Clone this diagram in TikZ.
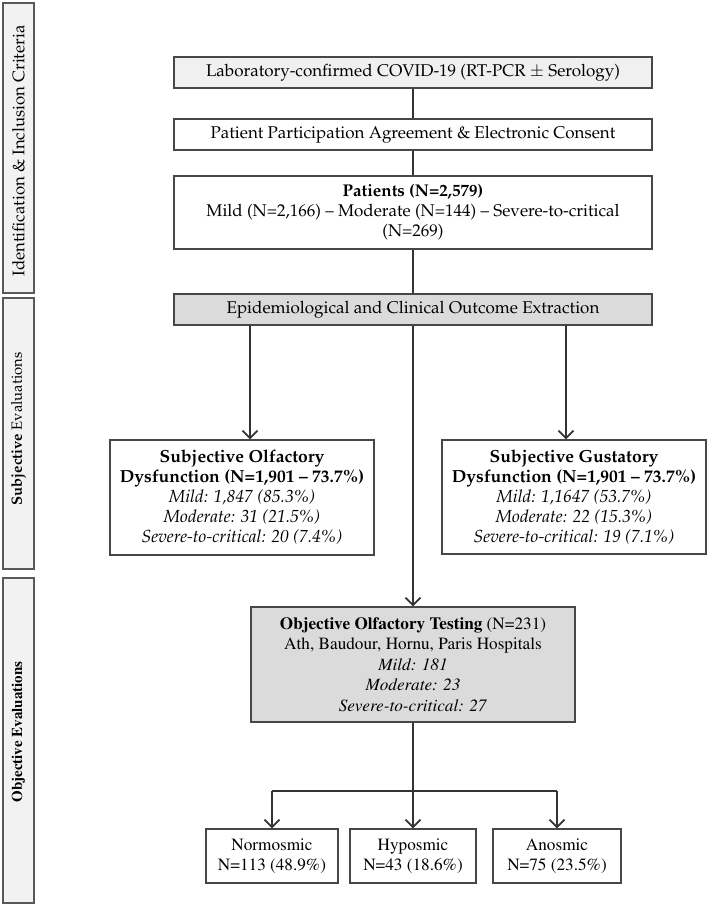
\documentclass[tikz,border=0pt]{standalone}
\usepackage[T1]{fontenc}
\usepackage{mathpazo}
\usetikzlibrary{arrows.meta,calc}
\newcommand{\tms}{\fontfamily{ptm}\selectfont}
\tikzset{
  x=1pt,y=-1pt,
  flowbox/.style={draw=black!72,line width=1.2pt,align=center,inner sep=1pt,
    font=\fontsize{17}{20}\selectfont},
  graybox/.style={flowbox,fill=black!6},
  darkbox/.style={flowbox,fill=black!14},
  subbox/.style={flowbox,font=\fontsize{17.5}{20}\selectfont},
  timesbox/.style={flowbox,font=\tms\fontsize{17.2}{20.5}\selectfont},
  sidebar/.style={draw=black!65,line width=1.3pt,fill=black!5},
  conn/.style={draw=black!80,line width=1.3pt},
  arr/.style={conn,-{Straight Barb[length=7.5pt,width=15pt,line width=1.8pt]}},
}
\begin{document}
\begin{tikzpicture}
\useasboundingbox (0,0) rectangle (708,907);
% side bars
\draw[sidebar] (3,3) rectangle (34,293);
\node[rotate=90,font=\fontsize{16.8}{18}\selectfont] (s1) at (18.5,151) {Identification \& Inclusion Criteria};
\draw[sidebar] (3,298) rectangle (34,569);
\node[rotate=90,font=\fontsize{14.8}{17}\selectfont] (s2) at (18.5,429) {\textbf{Subjective} Evaluations};
\draw[sidebar] (3,578) rectangle (34,903);
\node[rotate=90,font=\tms\fontsize{15}{17}\selectfont\bfseries] (s3) at (18.5,732) {Objective Evaluations};

% main boxes
\node[graybox,minimum width=478pt,minimum height=31pt] (b1) at (413,72.5)
  {Laboratory-confirmed COVID-19 (RT-PCR $\pm$ Serology)};
\node[flowbox,minimum width=478pt,minimum height=31pt] (b2) at (413,134.5)
  {Patient Participation Agreement \& Electronic Consent};
\node[flowbox,minimum width=478pt,minimum height=73pt] (b3) at (413,212.5)
  {\textbf{Patients (N=2,579)}\\Mild (N=2,166) -- Moderate (N=144) -- Severe-to-critical\\(N=269)};
\node[darkbox,minimum width=478pt,minimum height=31pt] (b4) at (413,309.5)
  {Epidemiological and Clinical Outcome Extraction};

\node[subbox,minimum width=264pt,minimum height=115pt] (olf) at (242,497.5)
  {\textbf{Subjective Olfactory}\\\textbf{Dysfunction (N=1,901 -- 73.7\%)}\\\textit{Mild: 1,847 (85.3\%)}\\\textit{Moderate: 31 (21.5\%)}\\\textit{Severe-to-critical: 20 (7.4\%)}};
\node[subbox,minimum width=264pt,minimum height=114pt] (gus) at (574,497)
  {\textbf{Subjective Gustatory}\\\textbf{Dysfunction (N=1,901 -- 73.7\%)}\\\textit{Mild: 1,1647 (53.7\%)}\\\textit{Moderate: 22 (15.3\%)}\\\textit{Severe-to-critical: 19 (7.1\%)}};

\node[timesbox,fill=black!14,minimum width=324pt,minimum height=115pt] (obj) at (413,664.5)
  {\textbf{Objective Olfactory Testing} (N=231)\\Ath, Baudour, Hornu, Paris Hospitals\\\textit{Mild: 181}\\\textit{Moderate: 23}\\\textit{Severe-to-critical: 27}};

\node[timesbox,minimum width=132pt,minimum height=54pt] (nor) at (272,856)
  {Normosmic\\N=113 (48.9\%)};
\node[timesbox,minimum width=126pt,minimum height=54pt] (hyp) at (413,856)
  {Hyposmic\\N=43 (18.6\%)};
\node[timesbox,minimum width=128pt,minimum height=54pt] (ano) at (557,856)
  {Anosmic\\N=75 (23.5\%)};

% connectors
\draw[conn] (b1) -- (b2);
\draw[conn] (b2) -- (b3);
\draw[conn] (b3) -- (b4);
\coordinate (xl) at (250,0);
\coordinate (xr) at (566,0);
\draw[arr] (b4.south -| xl) -- (olf.north -| xl);
\draw[arr] (b4.south -| xr) -- (gus.north -| xr);
\draw[arr] (b4.south) -- (obj.north);
\coordinate (split) at (413,791);
\draw[conn] (obj.south) -- (split);
\draw[conn] (split -| nor.north) -- (split -| ano.north);
\draw[arr] (split -| nor.north) -- (nor.north);
\draw[arr] (split) -- (hyp.north);
\draw[arr] (split -| ano.north) -- (ano.north);
\end{tikzpicture}
\end{document}
